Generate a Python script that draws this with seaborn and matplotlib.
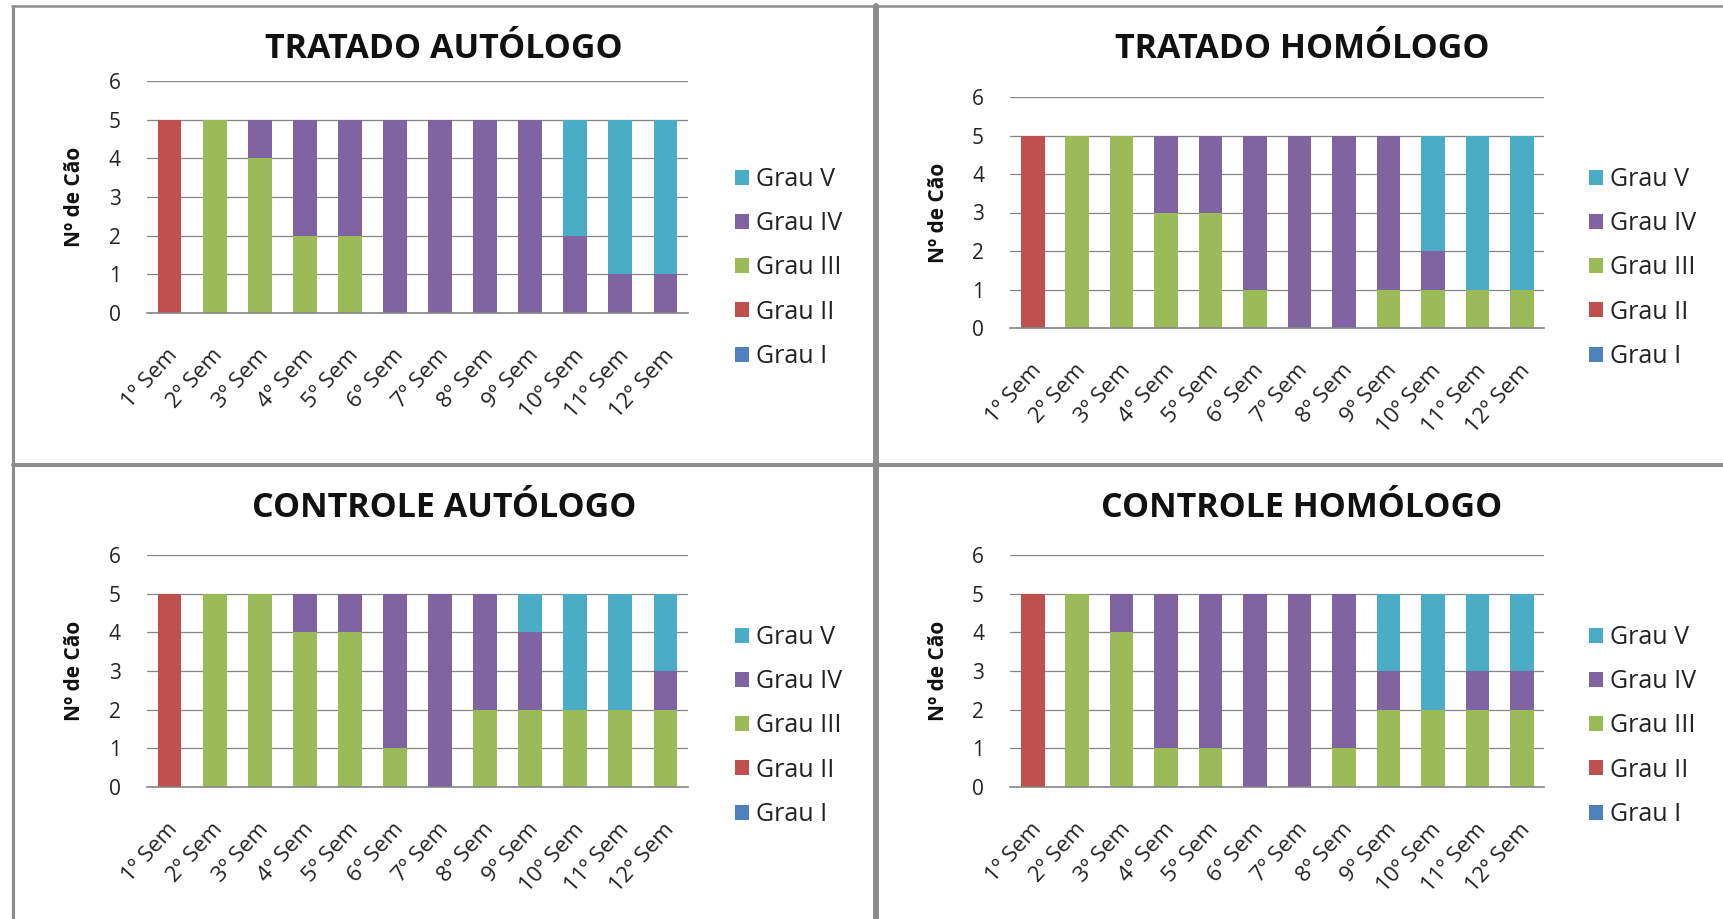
import numpy as np
import pandas as pd
import matplotlib
matplotlib.use("Agg")
import matplotlib.pyplot as plt
from matplotlib.patches import Patch
from matplotlib.lines import Line2D
from matplotlib.transforms import ScaledTranslation
import seaborn as sns

# ---- data -------------------------------------------------------------
semanas = ["1º Sem", "2º Sem", "3º Sem", "4º Sem", "5º Sem", "6º Sem",
           "7º Sem", "8º Sem", "9º Sem", "10º Sem", "11º Sem", "12º Sem"]
graus = ["Grau I", "Grau II", "Grau III", "Grau IV", "Grau V"]
cores = ["#4F81BD", "#C0504D", "#9BBB59", "#8064A2", "#4BACC6"]
yticks = [0, 1, 2, 3, 4, 5, 6]

# Tratado autólogo
ta_grau1 = [0, 0, 0, 0, 0, 0, 0, 0, 0, 0, 0, 0]
ta_grau2 = [5, 0, 0, 0, 0, 0, 0, 0, 0, 0, 0, 0]
ta_grau3 = [0, 5, 4, 2, 2, 0, 0, 0, 0, 0, 0, 0]
ta_grau4 = [0, 0, 1, 3, 3, 5, 5, 5, 5, 2, 1, 1]
ta_grau5 = [0, 0, 0, 0, 0, 0, 0, 0, 0, 3, 4, 4]

# Tratado homólogo
th_grau1 = [0, 0, 0, 0, 0, 0, 0, 0, 0, 0, 0, 0]
th_grau2 = [5, 0, 0, 0, 0, 0, 0, 0, 0, 0, 0, 0]
th_grau3 = [0, 5, 5, 3, 3, 1, 0, 0, 1, 1, 1, 1]
th_grau4 = [0, 0, 0, 2, 2, 4, 5, 5, 4, 1, 0, 0]
th_grau5 = [0, 0, 0, 0, 0, 0, 0, 0, 0, 3, 4, 4]

# Controle autólogo
ca_grau1 = [0, 0, 0, 0, 0, 0, 0, 0, 0, 0, 0, 0]
ca_grau2 = [5, 0, 0, 0, 0, 0, 0, 0, 0, 0, 0, 0]
ca_grau3 = [0, 5, 5, 4, 4, 1, 0, 2, 2, 2, 2, 2]
ca_grau4 = [0, 0, 0, 1, 1, 4, 5, 3, 2, 0, 0, 1]
ca_grau5 = [0, 0, 0, 0, 0, 0, 0, 0, 1, 3, 3, 2]

# Controle homólogo
ch_grau1 = [0, 0, 0, 0, 0, 0, 0, 0, 0, 0, 0, 0]
ch_grau2 = [5, 0, 0, 0, 0, 0, 0, 0, 0, 0, 0, 0]
ch_grau3 = [0, 5, 4, 1, 1, 0, 0, 1, 2, 2, 2, 2]
ch_grau4 = [0, 0, 1, 4, 4, 5, 5, 4, 1, 0, 1, 1]
ch_grau5 = [0, 0, 0, 0, 0, 0, 0, 0, 2, 3, 2, 2]

paineis = [
    ("TRATADO AUTÓLOGO", [ta_grau1, ta_grau2, ta_grau3, ta_grau4, ta_grau5]),
    ("TRATADO HOMÓLOGO", [th_grau1, th_grau2, th_grau3, th_grau4, th_grau5]),
    ("CONTROLE AUTÓLOGO", [ca_grau1, ca_grau2, ca_grau3, ca_grau4, ca_grau5]),
    ("CONTROLE HOMÓLOGO", [ch_grau1, ch_grau2, ch_grau3, ch_grau4, ch_grau5]),
]

# ---- style ------------------------------------------------------------
sns.set_style("white")
plt.rcParams["font.family"] = ["Open Sans", "DejaVu Sans"]

W, H = 1724, 919
fig = plt.figure(figsize=(W / 100, H / 100), dpi=100)
fig.patch.set_facecolor("white")


def fx(x):
    return x / W


def fy(y):
    return 1 - y / H


# axes boxes in pixels: left, right, top (y=6), bottom (y=0)
caixas = [
    (147, 688, 81, 313),
    (1010.5, 1544, 97, 328),
    (147, 688, 555, 787),
    (1010.5, 1544, 555, 787),
]
titulos_pos = [(444, 49), (1302, 49), (444, 508), (1302, 508)]
legenda_pos = [(735, 167), (1589, 167), (735, 625), (1589, 625)]

grid_cor = "#868686"
texto_cor = "#222222"
desloca = ScaledTranslation(0.05, 0, fig.dpi_scale_trans)

for (titulo, series), (l, r, t, b), (tx, ty), (lx, ly) in zip(
        paineis, caixas, titulos_pos, legenda_pos):
    ax = fig.add_axes([fx(l), fy(b), (r - l) / W, (b - t) / H])
    base = np.zeros(len(semanas))
    for grau, cor, valores in zip(graus, cores, series):
        df = pd.DataFrame({"semana": semanas, "caes": valores})
        sns.barplot(data=df, x="semana", y="caes", color=cor, width=0.53,
                    bottom=base.copy(), errorbar=None, saturation=1,
                    linewidth=0, ax=ax, zorder=3)
        base += np.array(valores)

    ax.set_ylim(0, 6)
    ax.set_yticks(yticks)
    ax.set_xlim(-0.5, len(semanas) - 0.5)
    ax.yaxis.grid(True, color=grid_cor, linewidth=0.9, zorder=0)
    ax.set_axisbelow(True)
    for s in ("top", "left", "right"):
        ax.spines[s].set_visible(False)
    ax.spines["bottom"].set_color(grid_cor)
    ax.spines["bottom"].set_linewidth(1.2)
    ax.spines["bottom"].set_zorder(4)

    ax.tick_params(axis="y", length=0, pad=19, labelsize=15, labelcolor=texto_cor)
    ax.tick_params(axis="x", length=0, pad=28, labelsize=16, labelcolor=texto_cor)
    for lab in ax.get_xticklabels():
        lab.set_rotation(48)
        lab.set_ha("right")
        lab.set_va("center")
        lab.set_rotation_mode("anchor")
        lab.set_transform(lab.get_transform() + desloca)

    ax.set_xlabel("")
    ax.set_ylabel("Nº de Cão", fontsize=15, fontweight="bold", color="#111111")
    ax.yaxis.set_label_coords(-0.115, 0.5)

    fig.text(fx(tx), fy(ty), titulo, ha="center", va="center",
             fontsize=24.5, fontweight="bold", color="#111111")

    handles = [Patch(facecolor=c, edgecolor="none") for c in cores[::-1]]
    ax.legend(handles, graus[::-1], loc="upper left",
              bbox_to_anchor=(fx(lx), fy(ly)), bbox_transform=fig.transFigure,
              frameon=False, fontsize=18, labelspacing=0.77,
              handlelength=0.55, handleheight=0.55, handletextpad=0.3,
              borderpad=0, borderaxespad=0, labelcolor=texto_cor)

# panel borders
borda = "#8c8c8c"
fig.add_artist(Line2D([fx(12), fx(W)], [fy(6), fy(6)], color=borda, lw=1.8))
fig.add_artist(Line2D([fx(13), fx(13)], [fy(6), fy(H)], color=borda, lw=2.2))
fig.add_artist(Line2D([fx(876), fx(876)], [fy(6), fy(H)], color=borda, lw=4.3))
fig.add_artist(Line2D([fx(13), fx(W)], [fy(465), fy(465)], color=borda, lw=2.9))

fig.savefig("out.png", dpi=100, facecolor="white")
